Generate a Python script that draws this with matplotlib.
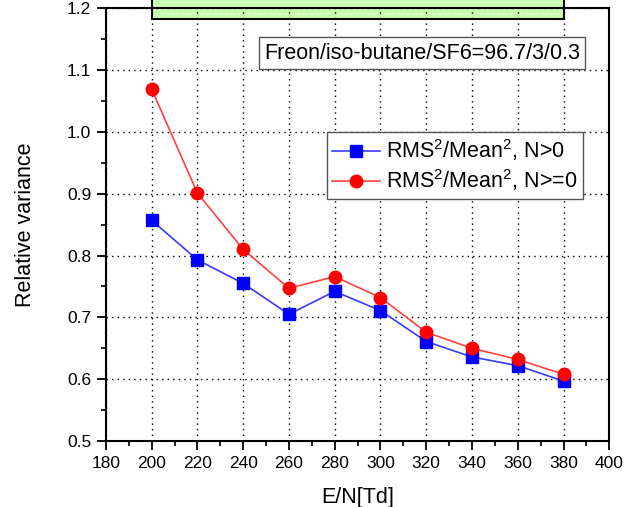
import matplotlib
matplotlib.use("Agg")
import matplotlib.pyplot as plt
from matplotlib.patches import Rectangle
from matplotlib.ticker import MultipleLocator

# data
en_td = [200, 220, 240, 260, 280, 300, 320, 340, 360, 380]
var_pos = [0.857, 0.793, 0.755, 0.705, 0.742, 0.711, 0.661, 0.636, 0.622, 0.597]
var_all = [1.069, 0.901, 0.810, 0.747, 0.766, 0.732, 0.676, 0.650, 0.632, 0.608]
label_pos = "RMS$^2$/Mean$^2$, N>0"
label_all = "RMS$^2$/Mean$^2$, N>=0"
gas_text = "Freon/iso-butane/SF6=96.7/3/0.3"

plt.rcParams['font.family'] = ['Liberation Sans', 'DejaVu Sans']
plt.rcParams['mathtext.fontset'] = 'custom'
plt.rcParams['mathtext.rm'] = 'Liberation Sans'
plt.rcParams['mathtext.it'] = 'Liberation Sans'

fig = plt.figure(figsize=(6.34, 5.07), dpi=100)
ax = fig.add_axes([0.167, 0.130, 0.794, 0.854])

# green box partly above the plot (cut off at the top of the picture)
ax.add_patch(Rectangle((200, 1.182), 180, 0.2, facecolor="#ccffb4", edgecolor="black",
                       linewidth=1.5, clip_on=False, zorder=0))

ax.plot(en_td, var_pos, color="#3a3aff", lw=1.2, marker="s", ms=8.5,
        mfc="blue", mec="blue", label=label_pos, zorder=3)
ax.plot(en_td, var_all, color="#ff4040", lw=1.2, marker="o", ms=9,
        mfc="red", mec="red", label=label_all, zorder=3)

ax.set_xlim(180, 400)
ax.set_ylim(0.5, 1.2)
ax.xaxis.set_major_locator(MultipleLocator(20))
ax.xaxis.set_minor_locator(MultipleLocator(10))
ax.yaxis.set_major_locator(MultipleLocator(0.1))
ax.yaxis.set_minor_locator(MultipleLocator(0.05))
ax.yaxis.set_major_formatter(matplotlib.ticker.FormatStrFormatter("%.1f"))
ax.grid(True, which="major", linestyle=(0, (1, 3)), color="black", lw=1.0, zorder=1)

ax.tick_params(which="major", direction="out", length=6.5, width=1.3, labelsize=12.5, pad=4,
               top=False, right=False)
ax.tick_params(which="minor", direction="out", length=3.6, width=1.2, top=False, right=False)
for s in ax.spines.values():
    s.set_linewidth(1.5)

ax.set_xlabel("E/N[Td]", fontsize=15.5, labelpad=12)
ax.set_ylabel("Relative variance", fontsize=15.5, labelpad=22)

ax.text(0.628, 0.896, gas_text, transform=ax.transAxes, ha="center", va="center",
        fontsize=15.5, zorder=4,
        bbox=dict(boxstyle="square,pad=0.25", facecolor="white", edgecolor="#555555", lw=1.0))

leg = ax.legend(loc="upper right", bbox_to_anchor=(0.948, 0.714), fontsize=15.5,
                fancybox=False, edgecolor="#555555", framealpha=1, borderpad=0.25,
                handlelength=2.2, handletextpad=0.3, labelspacing=0.2, borderaxespad=0)
leg.get_frame().set_linewidth(1.0)
leg.set_zorder(5)

fig.savefig("out.png", dpi=100)
